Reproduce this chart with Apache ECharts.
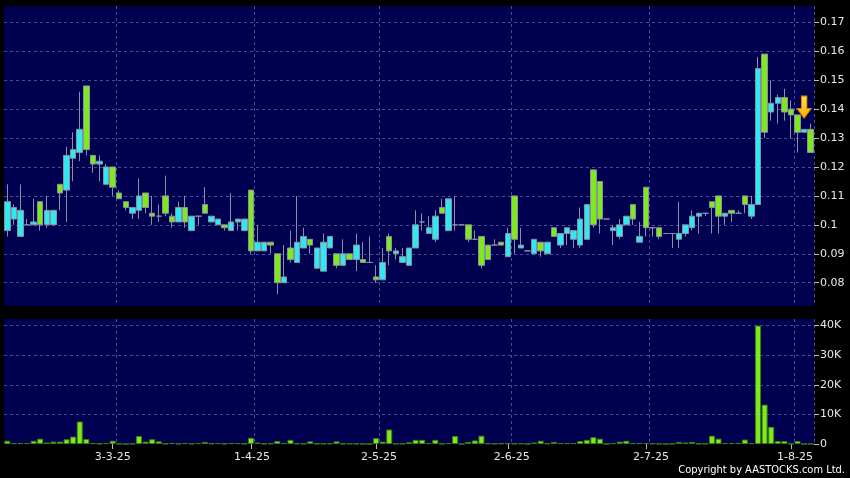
<!DOCTYPE html>
<html><head><meta charset="utf-8">
<script src="https://cdn.jsdelivr.net/npm/echarts@6/dist/echarts.min.js"></script>
<style>html,body{margin:0;padding:0;background:#000;}#c{width:850px;height:478px;}</style>
</head><body><div id="c"></div>
<script>
// Trading days (D-M-YY)
const dates = [
 '7-2-25','10-2-25','11-2-25','12-2-25','13-2-25','14-2-25','17-2-25','18-2-25','19-2-25','20-2-25','21-2-25','24-2-25','25-2-25','26-2-25','27-2-25','28-2-25',
 '3-3-25','4-3-25','5-3-25','6-3-25','7-3-25','10-3-25','11-3-25','12-3-25','13-3-25','14-3-25','17-3-25','18-3-25','19-3-25','20-3-25','21-3-25','24-3-25','25-3-25','26-3-25','27-3-25','28-3-25','31-3-25',
 '1-4-25','2-4-25','3-4-25','7-4-25','8-4-25','9-4-25','10-4-25','11-4-25','14-4-25','15-4-25','16-4-25','17-4-25','22-4-25','23-4-25','24-4-25','25-4-25','28-4-25','29-4-25','30-4-25',
 '2-5-25','6-5-25','7-5-25','8-5-25','9-5-25','12-5-25','13-5-25','14-5-25','15-5-25','16-5-25','19-5-25','20-5-25','21-5-25','22-5-25','23-5-25','26-5-25','27-5-25','28-5-25','29-5-25','30-5-25',
 '2-6-25','3-6-25','4-6-25','5-6-25','6-6-25','9-6-25','10-6-25','11-6-25','12-6-25','13-6-25','16-6-25','17-6-25','18-6-25','19-6-25','20-6-25','23-6-25','24-6-25','25-6-25','26-6-25','27-6-25','30-6-25',
 '2-7-25','3-7-25','4-7-25','7-7-25','8-7-25','9-7-25','10-7-25','11-7-25','14-7-25','15-7-25','16-7-25','17-7-25','18-7-25','21-7-25','22-7-25','23-7-25','24-7-25','25-7-25','28-7-25','29-7-25','30-7-25','31-7-25',
 '1-8-25','4-8-25','5-8-25','6-8-25'
];
const openP = [
 .098,.102,.096,.100,.100,.108,.100,.100,.114,.112,.123,.125,.148,.124,.121,.114,
 .120,.111,.108,.104,.105,.111,.104,.103,.110,.103,.101,.106,.098,.103,.107,.101,.100,.100,.098,.101,.098,
 .112,.091,.091,.094,.090,.080,.092,.087,.092,.095,.085,.084,.092,.090,.086,.090,.088,.088,.087,
 .082,.081,.096,.090,.087,.086,.092,.101,.097,.095,.106,.098,.100,.100,.100,.095,.096,.093,.093,.094,
 .089,.110,.092,.091,.090,.094,.090,.099,.093,.097,.095,.093,.095,.119,.115,.102,.098,.096,.100,.107,.094,
 .113,.099,.099,.097,.097,.095,.097,.099,.103,.104,.108,.110,.103,.105,.104,.110,.103,.107,.159,.139,.142,.144,
 .140,.138,.132,.133
];
const closeP = [
 .108,.106,.105,.100,.101,.100,.105,.105,.111,.124,.126,.133,.126,.121,.122,.120,
 .113,.109,.106,.106,.110,.106,.103,.103,.104,.101,.106,.101,.103,.103,.104,.103,.102,.099,.101,.102,.102,
 .091,.094,.094,.093,.080,.082,.088,.094,.096,.093,.092,.094,.096,.086,.090,.088,.093,.087,.087,
 .081,.087,.091,.091,.089,.092,.100,.101,.099,.103,.104,.109,.100,.100,.095,.095,.086,.088,.093,.093,
 .097,.095,.093,.091,.095,.091,.094,.096,.097,.099,.098,.102,.107,.100,.102,.102,.099,.100,.103,.102,.096,
 .099,.099,.096,.097,.097,.097,.100,.103,.104,.104,.106,.103,.104,.104,.104,.107,.107,.154,.132,.142,.144,.139,
 .138,.132,.133,.125
];
const lowP = [
 .096,.100,.096,.100,.100,.098,.099,.100,.105,.101,.115,.122,.124,.118,.115,.114,
 .110,.109,.105,.102,.102,.104,.100,.101,.103,.099,.101,.099,.098,.100,.104,.101,.100,.098,.098,.098,.098,
 .090,.091,.091,.090,.076,.080,.087,.087,.092,.090,.085,.084,.092,.085,.086,.088,.084,.087,.087,
 .080,.081,.086,.088,.087,.086,.092,.098,.097,.094,.104,.098,.098,.100,.094,.095,.085,.088,.093,.093,
 .089,.090,.092,.091,.090,.089,.090,.096,.092,.093,.092,.092,.095,.099,.097,.102,.093,.095,.100,.100,.094,
 .096,.096,.095,.097,.092,.092,.096,.098,.097,.103,.097,.097,.100,.101,.104,.104,.102,.107,.130,.136,.135,.136,
 .130,.125,.132,.125
];
const highP = [
 .114,.107,.114,.102,.109,.108,.110,.105,.114,.127,.132,.146,.148,.124,.124,.121,
 .120,.112,.108,.106,.116,.111,.110,.107,.117,.104,.108,.110,.103,.103,.113,.103,.102,.100,.111,.102,.102,
 .112,.100,.094,.094,.090,.093,.098,.110,.099,.095,.092,.097,.096,.090,.095,.090,.097,.094,.096,
 .086,.092,.097,.092,.092,.092,.105,.104,.103,.105,.109,.109,.110,.100,.100,.098,.096,.093,.095,.094,
 .099,.110,.099,.091,.095,.094,.094,.099,.097,.099,.098,.106,.107,.119,.115,.102,.100,.102,.103,.107,.101,
 .113,.099,.099,.097,.097,.108,.100,.105,.104,.104,.108,.110,.104,.105,.105,.110,.110,.158,.159,.150,.145,.147,
 .143,.138,.133,.135
];
const volume = [
 1100,300,300,300,1100,1800,500,800,800,1600,2500,7600,1700,300,100,300,
 1100,100,0,100,2700,800,1600,900,100,300,100,300,100,300,700,200,300,100,300,300,100,
 2100,500,100,200,1000,300,1400,200,100,900,100,100,200,900,100,100,100,100,0,
 2000,800,4900,100,100,600,1400,1400,300,1400,100,300,2700,0,700,1200,2800,200,100,200,
 200,100,200,0,500,1100,200,700,300,300,300,1000,1400,2300,1800,0,300,800,1100,300,300,
 300,200,100,0,100,700,500,700,100,100,2800,1800,300,300,300,1500,300,40000,13300,5800,1000,1000,
 100,1000,0,0
];
const tickDates = ['3-3-25','1-4-25','2-5-25','2-6-25','2-7-25','1-8-25'];
const priceMin = 0.07195, priceMax = 0.17563, priceSplits = 10;
const volMax = 42200, volStep = 10000;
const arrowMark = {date: '5-8-25', price: 0.1407};

const tickIdx = tickDates.map(d => dates.indexOf(d));
const ohlc = dates.map((d, i) => [openP[i], closeP[i], lowP[i], highP[i]]);

// small horizontal nudges (px) of the date labels, as in the source chart
const labelNudge = [0, 1, 3, 4, 5, 4];
const rich = {};
labelNudge.forEach((n, k) => { rich['n' + k] = {padding: [0, 0, 0, 2 * n], color: '#e8e8e8', fontSize: 11, fontFamily: 'DejaVu Sans'}; });

const gridBg = '#000050';
const splitStyle = {color: '#4b4b8f', type: [3, 3], width: 1};
const labelColor = '#e8e8e8';
const font = 'DejaVu Sans';

const chart = echarts.init(document.getElementById('c'), null, {renderer: 'canvas'});
chart.setOption({
  backgroundColor: '#000',
  animation: false,
  textStyle: {fontFamily: font},
  grid: [
    {left: 4, top: 6, width: 810, height: 300, show: true, backgroundColor: gridBg, borderWidth: 0, containLabel: false, outerBoundsMode: 'none'},
    {left: 4, top: 319, width: 810, height: 125, show: true, backgroundColor: gridBg, borderWidth: 0, containLabel: false, outerBoundsMode: 'none'}
  ],
  xAxis: [
    {type: 'category', data: dates, gridIndex: 0, boundaryGap: true,
     axisLine: {show: false}, axisTick: {show: false}, axisLabel: {show: false},
     splitLine: {show: true, interval: (i) => tickIdx.includes(i - 1), lineStyle: splitStyle}},
    {type: 'category', data: dates, gridIndex: 1, boundaryGap: true,
     axisLine: {show: false},
     axisTick: {show: true, alignWithLabel: true, interval: (i) => tickIdx.includes(i), length: 5, lineStyle: {color: '#bbbbbb'}},
     axisLabel: {show: true, interval: (i) => tickIdx.includes(i), color: labelColor, fontSize: 11, margin: 8, fontFamily: font,
       formatter: (v) => { const k = tickDates.indexOf(v); return '{n' + k + '|' + v + '}'; }, rich: rich},
     splitLine: {show: true, interval: (i) => tickIdx.includes(i - 1), lineStyle: splitStyle}}
  ],
  yAxis: [
    {type: 'value', gridIndex: 0, position: 'right', min: priceMin, max: priceMax, splitNumber: priceSplits,
     axisLine: {show: false}, axisTick: {show: true, length: 5, lineStyle: {color: '#bbbbbb'}},
     axisLabel: {color: labelColor, fontSize: 11, margin: 6, showMinLabel: false, showMaxLabel: false, fontFamily: font},
     splitLine: {show: true, showMinLine: false, showMaxLine: false, lineStyle: splitStyle}},
    {type: 'value', gridIndex: 1, position: 'right', min: 0, max: volMax, interval: volStep,
     axisLine: {show: false}, axisTick: {show: true, length: 5, lineStyle: {color: '#bbbbbb'}},
     axisLabel: {color: labelColor, fontSize: 11, margin: 6, showMaxLabel: false, fontFamily: font,
       formatter: v => v === 0 ? '0' : (v / 1000) + 'K'},
     splitLine: {show: true, showMinLine: false, showMaxLine: false, lineStyle: splitStyle}}
  ],
  series: [
    {type: 'candlestick', xAxisIndex: 0, yAxisIndex: 0, data: ohlc, barWidth: 6,
     itemStyle: {color: '#2ee8f2', color0: '#7eea1e', borderColor: '#8a90a0', borderColor0: '#8a90a0', borderWidth: 1},
     markPoint: {
       symbol: 'path://M3,0 L7,0 L7,8 L10,8 L5,14 L0,8 L3,8 Z',
       symbolSize: [14, 22], silent: true, label: {show: false},
       itemStyle: {color: new echarts.graphic.LinearGradient(0, 0, 0, 1, [{offset: 0, color: '#ffe04a'}, {offset: 1, color: '#ffb000'}]), borderColor: '#e08000', borderWidth: 1},
       data: [{coord: [arrowMark.date, arrowMark.price]}]
     }},
    {type: 'bar', xAxisIndex: 1, yAxisIndex: 1, data: volume, barWidth: 6,
     itemStyle: {color: '#7eea1e', borderColor: '#3f7f10', borderWidth: 1}}
  ],
  graphic: [
    {type: 'text', right: 5, bottom: 2, style: {text: 'Copyright by AASTOCKS.com Ltd.', fill: '#ffffff', font: '11px "DejaVu Sans Condensed", "DejaVu Sans"'}}
  ]
});
</script>
</body></html>
